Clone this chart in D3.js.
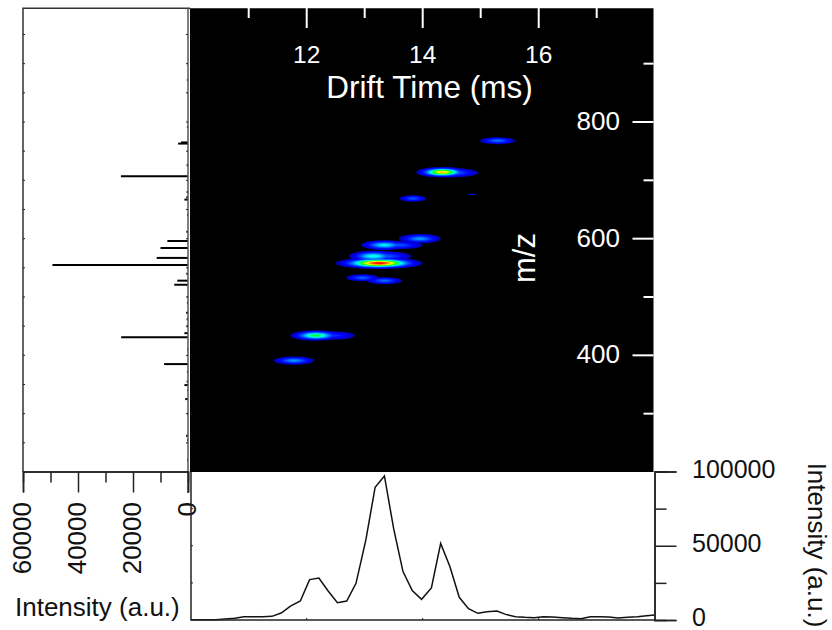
<!DOCTYPE html>
<html>
<head>
<meta charset="utf-8">
<script src="https://cdn.jsdelivr.net/npm/d3@7"></script>
<style>
  html, body { margin: 0; background: #fff; }
  text { font-family: "Liberation Sans", Arial, sans-serif; }
</style>
</head>
<body>
<div id="viz"></div>
<script>
// drift profile (bottom panel)
const driftTimes = [10.00,10.11,10.27,10.43,10.60,10.76,10.92,11.08,11.24,11.40,11.56,11.72,11.89,12.05,12.21,12.37,12.53,12.69,12.85,13.02,13.18,13.34,13.50,13.66,13.82,13.98,14.15,14.31,14.47,14.63,14.79,14.95,15.11,15.28,15.43,15.60,15.76,15.92,16.08,16.24,16.41,16.57,16.73,16.89,17.05,17.21,17.37,17.53,17.70,17.86,18.00];
const driftIntensity = [100,100,150,220,700,1150,2250,2250,2250,2470,4700,9400,12800,27200,28300,19500,11700,12800,24700,53900,89400,97000,61300,32600,19800,13900,21600,51600,35900,15300,7600,4500,5600,6060,3800,2250,1800,1570,2250,2000,1570,1100,900,2250,2250,2000,1350,1800,2250,2900,3400];

// mass spectrum (left panel)
const specMz = [763,765,707,680,671,667,596,584,567,555,528,521,473,438,431,385,355,349,325,262,872,791,726,640,612,540,500,490,462,450,410,372,340,300,255,220];
const specIntensity = [3600,2500,24400,500,600,1300,7500,10000,11400,49300,3900,5000,700,1300,24300,8700,500,1300,1000,700,400,400,500,300,600,600,300,400,500,500,300,400,300,300,300,300];

// spots in the drift time / mz map
const spotDrift = [15.29,14.34,14.50,13.83,14.86,13.95,13.34,13.58,13.15,13.38,13.25,12.96,13.34,12.16,12.45,11.78];
const spotMz = [768,714,713,669,676,600,589,589,570,570,558,533,528,434,434,391];
const spotIntensity = [24000,78000,24000,20000,6000,28000,38000,20000,42000,20000,96000,22000,23000,52000,15000,28000];
const spotWidthDrift = [0.30,0.45,0.46,0.23,0.09,0.36,0.40,0.42,0.42,0.42,0.75,0.28,0.30,0.44,0.38,0.35];
const spotWidthMz = [6,9,8,5.5,1.2,8,8.5,7,9.5,8,10,6,6,9,7,7];

// ticks
const mapDriftMajor = [12,14,16];
const mapDriftMinor = [11,13,15,17];
const mapMzMajor = [400,600,800];
const mapMzMinor = [300,500,700,900];
const leftMz = [250,300,350,400,450,500,550,600,650,700,750,800,850,900,950];
const leftIntensityMajor = [0,20000,40000,60000];
const leftIntensityMinor = [10000,30000,50000];
const bottomMajor = [0,50000,100000];
const bottomMinor = [25000,75000];

const levels = [3000,5000,7000,9000,11000,13000,15000,18000,21000,24000,27000,30000,33000,36000,39000,42000,45000,48000,51000,54000,57000,60000,63000,66000,69000,72000,75000,78000,81000,84000,87000,90000,93000];

const svg = d3.select('#viz').append('svg')
  .attr('width', 832)
  .attr('height', 630)
  .style('display', 'block');

const x = d3.scaleLinear().domain([10,18]).range([190.7,654.7]);
const y = d3.scaleLinear().domain([200,995]).range([472,8.25]);
const xLeft = d3.scaleLinear().domain([0,60000]).range([188,23]);
const yBottom = d3.scaleLinear().domain([0,100000]).range([620,471.5]);

const color = d3.scaleLinear()
  .domain([0,9000,38000,52000,70000,94000])
  .range(['#0000a0','#0000ff','#00ffff','#00ff00','#ffff00','#ff0000'])
  .clamp(true);

// heatmap background
svg.append('rect')
  .attr('x', 190)
  .attr('y', y(995))
  .attr('width', 463.5)
  .attr('height', y(200) - y(995))
  .attr('fill', '#000');

// spots, painted from the lowest level up so that overlaps add up right
const rings = [];
spotIntensity.forEach((p, i) => {
  levels.filter(l => l < p).forEach(l => rings.push({i, l, f: Math.sqrt(Math.log(p / l) / Math.log(p / 3000))}));
  rings.push({i, l: p, f: 0.02});
});
rings.sort((a, b) => a.l - b.l);

svg.append('g').selectAll('ellipse').data(rings).enter()
  .append('ellipse')
  .attr('cx', d => x(spotDrift[d.i]))
  .attr('cy', d => y(spotMz[d.i]))
  .attr('rx', d => x(spotDrift[d.i] + spotWidthDrift[d.i] * d.f) - x(spotDrift[d.i]))
  .attr('ry', d => y(spotMz[d.i] - spotWidthMz[d.i] * d.f) - y(spotMz[d.i]))
  .attr('fill', d => color(d.l));

// white ticks inside the map
function whiteTicks(vals, len, vertical) {
  svg.append('g').selectAll('line').data(vals).enter()
    .append('line')
    .attr('x1', d => vertical ? x(d) : 653.5)
    .attr('x2', d => vertical ? x(d) : 653.5 - len)
    .attr('y1', d => vertical ? 8 : y(d))
    .attr('y2', d => vertical ? 8 + len : y(d))
    .attr('stroke', '#fff')
    .attr('stroke-width', 2);
}
whiteTicks(mapDriftMajor, 20, true);
whiteTicks(mapDriftMinor, 10, true);
whiteTicks(mapMzMajor, 21, false);
whiteTicks(mapMzMinor, 10, false);

svg.append('g').selectAll('text').data(mapDriftMajor).enter()
  .append('text')
  .attr('x', d => x(d))
  .attr('y', 63)
  .attr('text-anchor', 'middle')
  .attr('font-size', 24.5)
  .attr('fill', '#fff')
  .text(d => d);

svg.append('text')
  .attr('x', 429.5)
  .attr('y', 98)
  .attr('text-anchor', 'middle')
  .attr('font-size', 31.5)
  .attr('fill', '#fff')
  .text('Drift Time (ms)');

svg.append('g').selectAll('text').data(mapMzMajor).enter()
  .append('text')
  .attr('x', 620)
  .attr('y', d => y(d) + 8)
  .attr('text-anchor', 'end')
  .attr('font-size', 26)
  .attr('fill', '#fff')
  .text(d => d);

svg.append('text')
  .attr('transform', 'translate(535,258) rotate(-90)')
  .attr('text-anchor', 'middle')
  .attr('font-size', 31)
  .attr('fill', '#fff')
  .text('m/z');

// left panel: spectrum
const left = svg.append('g');
left.selectAll('line.stick').data(specMz).enter()
  .append('line')
  .classed('stick', true)
  .attr('x1', xLeft(0))
  .attr('x2', (d, i) => xLeft(specIntensity[i]))
  .attr('y1', d => y(d))
  .attr('y2', d => y(d))
  .attr('stroke', '#000')
  .attr('stroke-width', 2);

left.append('path')
  .attr('d', `M${xLeft(60000)},${y(200)}V${y(995)}H190`)
  .attr('fill', 'none')
  .attr('stroke', '#333')
  .attr('stroke-width', 1.5);
left.append('line')
  .attr('x1', xLeft(0)).attr('x2', xLeft(0))
  .attr('y1', y(995)).attr('y2', 493)
  .attr('stroke', '#555')
  .attr('stroke-width', 1.5);

left.selectAll('line.tl').data(leftMz).enter()
  .append('line')
  .classed('tl', true)
  .attr('x1', xLeft(60000)).attr('x2', xLeft(60000) + 2)
  .attr('y1', d => y(d)).attr('y2', d => y(d))
  .attr('stroke', '#222');
left.selectAll('line.tr').data(leftMz).enter()
  .append('line')
  .classed('tr', true)
  .attr('x1', xLeft(0)).attr('x2', xLeft(0) - 2)
  .attr('y1', d => y(d)).attr('y2', d => y(d))
  .attr('stroke', '#222');

const leftAxis = d3.axisBottom(xLeft).tickValues(leftIntensityMajor).tickSize(21).tickFormat('');
const leftMinor = d3.axisBottom(xLeft).tickValues(leftIntensityMinor).tickSize(11).tickFormat('');
[leftAxis, leftMinor].forEach(a => {
  const g = svg.append('g').attr('transform', 'translate(0,471.5)').call(a);
  g.selectAll('line').attr('stroke', '#222').attr('stroke-width', 1.5);
  g.select('.domain').attr('stroke', '#222').attr('stroke-width', 1.5);
});

svg.append('g').selectAll('text').data(leftIntensityMajor).enter()
  .append('text')
  .attr('transform', d => `translate(${xLeft(d) + 8},502) rotate(-90)`)
  .attr('text-anchor', 'end')
  .attr('font-size', 26)
  .attr('fill', '#111')
  .text(d => d);

svg.append('text')
  .attr('x', 15)
  .attr('y', 616)
  .attr('font-size', 26)
  .attr('fill', '#111')
  .text('Intensity (a.u.)');

// bottom panel: drift profile
const profile = d3.line()
  .x(d => x(d))
  .y((d, i) => yBottom(driftIntensity[i]));

svg.append('path')
  .datum(driftTimes)
  .attr('d', profile)
  .attr('fill', 'none')
  .attr('stroke', '#111')
  .attr('stroke-width', 1.5);

const rightAxis = d3.axisRight(yBottom).tickValues(bottomMajor).tickSize(22).tickFormat('');
const rightMinor = d3.axisRight(yBottom).tickValues(bottomMinor).tickSize(12).tickFormat('');
[rightAxis, rightMinor].forEach(a => {
  const g = svg.append('g').attr('transform', 'translate(654.5,0)').call(a);
  g.selectAll('line').attr('stroke', '#222').attr('stroke-width', 1.5);
  g.select('.domain').attr('stroke', '#222').attr('stroke-width', 1.5);
});

svg.append('line')
  .attr('x1', 191).attr('x2', 191)
  .attr('y1', 472).attr('y2', 620.5)
  .attr('stroke', '#222')
  .attr('stroke-width', 1.5);
svg.append('line')
  .attr('x1', 191).attr('x2', 655)
  .attr('y1', 620).attr('y2', 620)
  .attr('stroke', '#222')
  .attr('stroke-width', 1.5);

svg.append('g').selectAll('line').data(bottomMinor.concat(50000)).enter()
  .append('line')
  .attr('x1', 191).attr('x2', 193)
  .attr('y1', d => yBottom(d)).attr('y2', d => yBottom(d))
  .attr('stroke', '#222');
svg.append('g').selectAll('line').data(mapDriftMajor).enter()
  .append('line')
  .attr('x1', d => x(d)).attr('x2', d => x(d))
  .attr('y1', 620).attr('y2', 618)
  .attr('stroke', '#222');

svg.append('g').selectAll('text').data(bottomMajor).enter()
  .append('text')
  .attr('x', 692)
  .attr('y', d => yBottom(d) + 6)
  .attr('font-size', 25)
  .attr('fill', '#111')
  .text(d => d);

svg.append('text')
  .attr('transform', 'translate(808,545) rotate(90)')
  .attr('text-anchor', 'middle')
  .attr('font-size', 26)
  .attr('fill', '#111')
  .text('Intensity (a.u.)');
</script>
</body>
</html>
